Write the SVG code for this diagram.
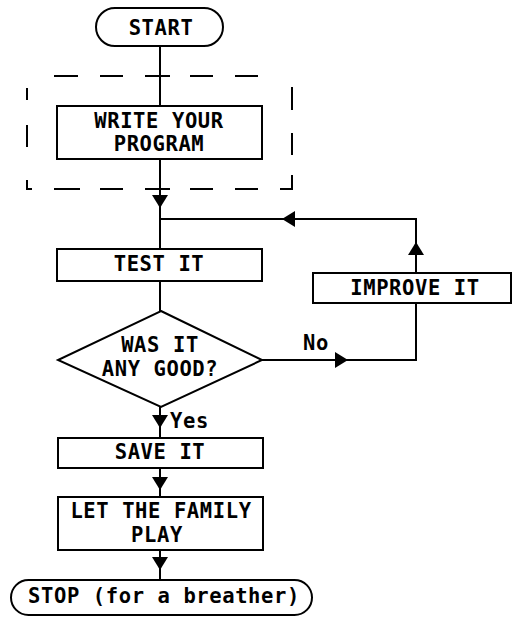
<svg xmlns="http://www.w3.org/2000/svg" width="513" height="617" viewBox="0 0 513 617">
<style>
.box{fill:#fff;stroke:#000;stroke-width:2}
.ln{fill:none;stroke:#000;stroke-width:2}
.dash{fill:none;stroke:#000;stroke-width:2}
text{font-family:"DejaVu Sans Mono","Liberation Mono",monospace;font-weight:bold;font-size:20.5px;letter-spacing:0.6px;fill:#000}
.c{text-anchor:middle}
</style>
<defs>
<path id="ah" d="M-8,-13 L8,-13 L0,0 Z" fill="#000"/>
</defs>
<rect width="513" height="617" fill="#fff"/>
<g id="connectors">
<path class="ln" d="M160,46 V106 M160,159 V219 M160,219 H416 V273 M160,219 V249 M160,281 V311 M160,407 V438 M160,468 V497 M160,550 V580 M262,360 H416 V303"/>
<use href="#ah" transform="translate(160,208)"/>
<use href="#ah" transform="translate(282,219) rotate(90)"/>
<use href="#ah" transform="translate(416,242) rotate(180)"/>
<use href="#ah" transform="translate(348,360) rotate(-90)"/>
<use href="#ah" transform="translate(160,428)"/>
<use href="#ah" transform="translate(160,490)"/>
<use href="#ah" transform="translate(160,570)"/>
<text x="303" y="350">No</text>
<text x="170" y="428">Yes</text>
</g>
<g id="dashed-frame">
<path class="dash" d="M54,76 H78 M100,76 H123 M145,76 H170 M190,76 H213 M235,76 H258 M27,88 V100 M27,125 V147 M27,180 V189 H32 M54,189 H80 M100,189 H123 M145,189 H170 M190,189 H213 M235,189 H258 M280,189 H292 V175 M292,87 V110 M292,133 V155"/>
</g>
<g id="start">
<rect class="box" x="96" y="8" width="127" height="38" rx="19"/>
<text class="c" x="161" y="35">START</text>
</g>
<g id="write">
<rect class="box" x="57" y="106" width="205" height="53"/>
<text class="c" x="159" y="128">WRITE YOUR</text>
<text class="c" x="159" y="151">PROGRAM</text>
</g>
<g id="test">
<rect class="box" x="57" y="249" width="205" height="32"/>
<text class="c" x="159" y="271">TEST IT</text>
</g>
<g id="improve">
<rect class="box" x="313" y="273" width="198" height="30"/>
<text class="c" x="415" y="295">IMPROVE IT</text>
</g>
<g id="decision">
<polygon class="box" points="161,311 262,360 161,407 58,360"/>
<text class="c" x="160" y="352">WAS IT</text>
<text class="c" x="160" y="376">ANY GOOD?</text>
</g>
<g id="save">
<rect class="box" x="58" y="438" width="205" height="30"/>
<text class="c" x="160" y="459">SAVE IT</text>
</g>
<g id="family">
<rect class="box" x="58" y="497" width="205" height="53"/>
<text class="c" x="161" y="518">LET THE FAMILY</text>
<text class="c" x="157" y="542">PLAY</text>
</g>
<g id="stop">
<rect class="box" x="11" y="580" width="301" height="35" rx="17.5"/>
<text class="c" x="164" y="603">STOP (for a breather)</text>
</g>
</svg>
